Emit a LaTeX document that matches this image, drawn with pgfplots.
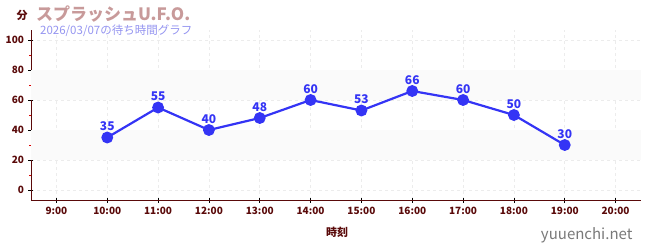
\documentclass[border=0pt]{standalone}
\usepackage{pgfplots}
\pgfplotsset{compat=1.18}
\usepackage{fontspec}
\setmainfont{Noto Sans CJK JP}
\definecolor{axred}{HTML}{5A0A0A}
\definecolor{ttl}{HTML}{C89A9A}
\definecolor{sub}{HTML}{9494F0}
\definecolor{ln}{HTML}{3434F5}
\begin{document}
\begin{tikzpicture}
\begin{axis}[
  at={(0,0)}, anchor=south west,
  scale only axis, width=610pt, height=170pt,
  xmin=8.5, xmax=20.5, ymin=-6.667, ymax=106.667,
  axis lines=left, axis line style={axred, line width=0.9pt, -},
  xtick={9,...,20},
  xticklabels={9:00,10:00,11:00,12:00,13:00,14:00,15:00,16:00,17:00,18:00,19:00,20:00},
  ytick={0,20,...,100},
  minor ytick={10,30,50,70,90},
  tick style={black, line width=0.6pt},
  major tick length=5pt, minor tick length=3pt,
  minor tick style={red!85!black},
  grid=major, major grid style={gray!15, dashed, line width=0.6pt},
  minor grid style={draw=none},
  ticklabel style={font=\fontsize{10}{10}\selectfont\bfseries, text=axred},
  /pgf/number format/assume math mode=true,
  xticklabel style={yshift=-1pt},
  yticklabel style={xshift=-1pt},
  clip=false,
]
\fill[gray!4] (axis cs:8.5,20) rectangle (axis cs:20.5,40);
\fill[gray!4] (axis cs:8.5,60) rectangle (axis cs:20.5,80);
\addplot[ln, line width=2.2pt, mark=*, mark size=4.8pt,
  nodes near coords, point meta=explicit symbolic,
  every node near coord/.style={font=\fontsize{12}{12}\selectfont\bfseries, text=ln, anchor=south, yshift=2pt}]
  table[meta=y] {
x y
10 35
11 55
12 40
13 48
14 60
15 53
16 66
17 60
18 50
19 30
};
\end{axis}
\pgfresetboundingbox
\path (-31pt,-50pt) rectangle (619pt,200pt);
\node[anchor=west, font=\fontsize{11}{12}\selectfont\bfseries, text=axred] at (-18pt,185pt) {分};
\node[anchor=west, font=\fontsize{17}{18}\selectfont\bfseries, text=ttl, inner sep=0pt] at (5pt,186pt) {スプラッシュU.F.O.};
\node[anchor=west, font=\fontsize{11.5}{12}\selectfont, text=sub, inner sep=0pt] at (9pt,169pt) {2026/03/07の待ち時間グラフ};
\node[font=\fontsize{11}{12}\selectfont\bfseries, text=axred] at (306pt,-32pt) {時刻};
\node[font=\fontsize{15}{16}\selectfont, text=gray!95!black, anchor=east] at (605pt,-35pt) {yuuenchi.net};
\end{tikzpicture}
\end{document}
